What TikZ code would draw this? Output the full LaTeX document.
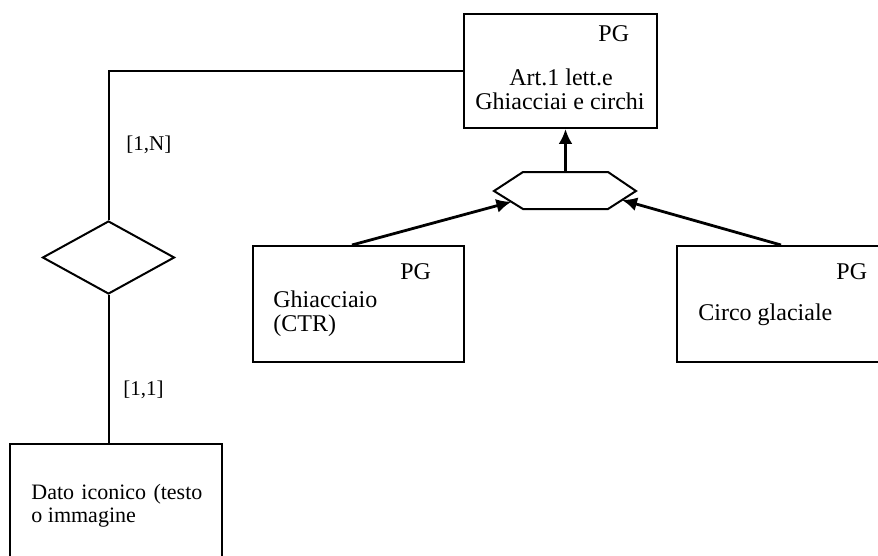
\documentclass[tikz,border=0pt]{standalone}
\usepackage{fontspec}
\setmainfont{Liberation Serif}
\usetikzlibrary{arrows.meta,shapes.geometric,calc}
\begin{document}
\begin{tikzpicture}[x=0.5pt,y=-0.5pt,
  entity/.style={draw,line width=1pt,rectangle,inner sep=0pt,minimum height=58pt},
  lbl/.style={font=\fontsize{12}{12}\selectfont,inner sep=0pt,anchor=base west},
  lblc/.style={lbl,anchor=base},
  card/.style={lbl,font=\fontsize{10.5}{10.5}\selectfont},
  small/.style={lbl,font=\fontsize{11}{11}\selectfont},
  conn/.style={line width=1pt},
  isa/.style={line width=1.4pt,-{Latex[length=7.5pt,width=7pt]}}]
\useasboundingbox (0,0) rectangle (878,556);
\clip (0,0) rectangle (878,556);
% entities
\node[entity,minimum width=96.5pt,minimum height=57pt] (top) at (560.5,71) {};
\node[entity,minimum width=105.5pt] (gh) at (358.5,304) {};
\node[entity,minimum width=105.5pt] (ci) at (782.5,304) {};
\node[entity,minimum width=106pt] (dato) at (116,502) {};
% relationship diamond
\node[draw,diamond,line width=1pt,minimum width=66pt,minimum height=36.5pt,inner sep=0pt] (rel) at (108.5,257.5) {};
% generalization hexagon
\coordinate (h1) at (494,191);
\coordinate (h2) at (523,172);
\coordinate (h3) at (608,172);
\coordinate (h4) at (636,191);
\coordinate (h5) at (608,209);
\coordinate (h6) at (523,209);
\draw[line width=1pt] (h1) -- (h2) -- (h3) -- (h4) -- (h5) -- (h6) -- cycle;
\coordinate (hl) at ($(h1)!0.6!(h6)$);
\coordinate (hr) at ($(h4)!0.5!(h5)$);
\coordinate (ht) at ($(h2)!0.5!(h3)$);
% connectors
\draw[conn] (top.west) -| (rel.north);
\draw[conn] (rel.south) -- (rel.south |- dato.north);
\draw[isa] ([xshift=-3.25pt]gh.north) -- (hl);
\draw[isa] ([xshift=-0.75pt]ci.north) -- (hr);
\draw[isa] (ht) -- (ht |- top.south);
% labels
\node[lbl] (tpg) at (598,42) {PG};
\node[lblc] (t1) at (561,86) {Art.1 lett.e};
\node[lblc] (t2) at (560,110) {Ghiacciai e circhi};
\node[lbl] (gpg) at (400,279) {PG};
\node[lbl] (g1) at (273,307) {Ghiacciaio};
\node[lbl] (g2) at (273,331) {(CTR)};
\node[lbl] (cpg) at (836,279) {PG};
\node[lbl] (c1) at (698,320) {Circo glaciale};
\node[card] (cn) at (126,150) {[1,N]};
\node[card] (c11) at (123,395) {[1,1]};
\node[small] (d1) at (31,499) {\makebox[85.5pt][s]{Dato iconico (testo}};
\node[small] (d2) at (31,522) {o immagine};
\end{tikzpicture}
\end{document}
